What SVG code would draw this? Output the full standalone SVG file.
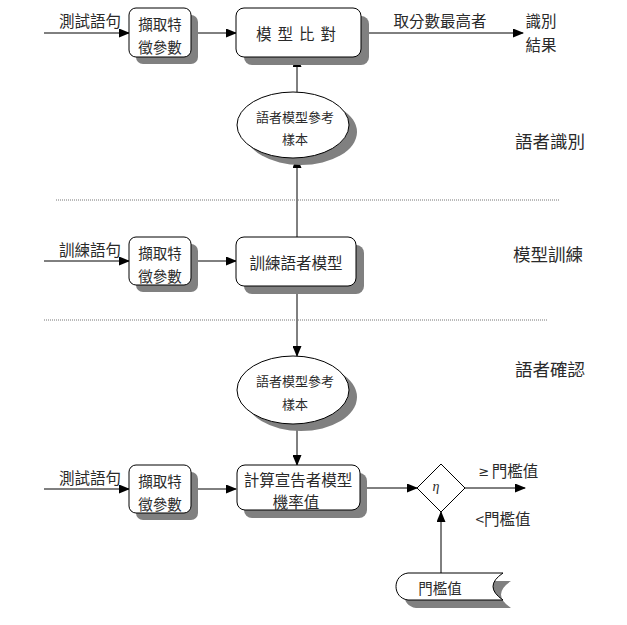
<svg xmlns="http://www.w3.org/2000/svg" width="627" height="625" viewBox="0 0 627 625">
<defs>
<style>
text{font-family:"Noto Sans CJK TC","Noto Sans CJK SC",sans-serif;fill:#2a2a2a;dominant-baseline:central;text-anchor:middle}
.lbl{font-size:15.5px}
.bx{font-size:14.5px}
.big{font-size:15.5px}
.ell{font-size:13px}
.sec{font-size:17.5px}
.node{fill:#fff;stroke:#000;stroke-width:1}
.shadow{fill:#808080;stroke:none}
.conn{stroke:#000;stroke-width:1;fill:none}
.dot{stroke:#777;stroke-width:1;stroke-dasharray:1 1;fill:none}
</style>
<marker id="arr" markerUnits="userSpaceOnUse" markerWidth="11" markerHeight="9" refX="10" refY="4.5" orient="auto">
<path d="M0,0 L11,4.5 L0,9 Z" fill="#000"/>
</marker>
</defs>
<rect width="627" height="625" fill="#fff"/>

<g id="connectors">
<line class="conn" x1="44" y1="33" x2="129" y2="33" marker-end="url(#arr)"/>
<line class="conn" x1="191" y1="33" x2="236" y2="33" marker-end="url(#arr)"/>
<line class="conn" x1="361" y1="33" x2="523" y2="33" marker-end="url(#arr)"/>
<line class="conn" x1="297" y1="92" x2="297" y2="57" marker-end="url(#arr)"/>
<line class="conn" x1="297" y1="237" x2="297" y2="158" marker-end="url(#arr)"/>
<line class="conn" x1="44" y1="261" x2="129" y2="261" marker-end="url(#arr)"/>
<line class="conn" x1="191" y1="261" x2="236" y2="261" marker-end="url(#arr)"/>
<line class="conn" x1="297" y1="286" x2="297" y2="356" marker-end="url(#arr)"/>
<line class="conn" x1="297" y1="424" x2="297" y2="465" marker-end="url(#arr)"/>
<line class="conn" x1="44" y1="489" x2="129" y2="489" marker-end="url(#arr)"/>
<line class="conn" x1="191" y1="489" x2="236" y2="489" marker-end="url(#arr)"/>
<line class="conn" x1="360" y1="488" x2="417" y2="488" marker-end="url(#arr)"/>
<line class="conn" x1="465" y1="488" x2="525" y2="488" marker-end="url(#arr)"/>
<line class="conn" x1="441" y1="573" x2="441" y2="512" marker-end="url(#arr)"/>
<line class="dot" x1="56" y1="200" x2="560" y2="200"/>
<line class="dot" x1="44" y1="320" x2="548" y2="320"/>
</g>

<g id="labels">
<text class="lbl" x="90" y="20">測試語句</text>
<text class="lbl" x="440" y="20">取分數最高者</text>
<text class="lbl" x="541" y="20">識別</text>
<text class="lbl" x="541" y="44">結果</text>
<text class="lbl" x="90" y="249">訓練語句</text>
<text class="lbl" x="90" y="477">測試語句</text>
<text class="sec" x="550" y="140">語者識別</text>
<text class="sec" x="548" y="253">模型訓練</text>
<text class="sec" x="550" y="368">語者確認</text>
<text class="lbl" x="484" y="471" style="font-size:13px;font-family:'DejaVu Sans',sans-serif">≥</text>
<text class="lbl" x="515" y="470">門檻值</text>
<text class="lbl" x="503" y="518">&lt;門檻值</text>
</g>

<g id="feat1">
<rect class="shadow" x="136" y="15" width="62" height="49" rx="7"/>
<rect class="node" x="129" y="8" width="62" height="49" rx="7"/>
<text class="bx" x="160" y="23">擷取特</text>
<text class="bx" x="160" y="46">徵參數</text>
</g>

<g id="match">
<rect class="shadow" x="244" y="16" width="125" height="49" rx="8"/>
<rect class="node" x="236" y="8" width="125" height="49" rx="8"/>
<text class="big" x="299" y="33" style="letter-spacing:6px">模型比對</text>
</g>

<g id="ref1">
<ellipse class="shadow" cx="301" cy="132" rx="56" ry="33"/>
<ellipse class="node" cx="293" cy="125" rx="56" ry="33"/>
<text class="ell" x="295" y="116">語者模型參考</text>
<text class="ell" x="295" y="138">樣本</text>
</g>

<g id="feat2">
<rect class="shadow" x="136" y="244" width="62" height="48" rx="7"/>
<rect class="node" x="129" y="237" width="62" height="48" rx="7"/>
<text class="bx" x="160" y="252">擷取特</text>
<text class="bx" x="160" y="275">徵參數</text>
</g>

<g id="train">
<rect class="shadow" x="244" y="245" width="120" height="49" rx="8"/>
<rect class="node" x="236" y="237" width="120" height="49" rx="8"/>
<text class="big" x="296" y="262">訓練語者模型</text>
</g>

<g id="ref2">
<ellipse class="shadow" cx="301" cy="397" rx="56" ry="34"/>
<ellipse class="node" cx="293" cy="390" rx="56" ry="34"/>
<text class="ell" x="295" y="380">語者模型參考</text>
<text class="ell" x="295" y="403">樣本</text>
</g>

<g id="feat3">
<rect class="shadow" x="136" y="472" width="62" height="48" rx="7"/>
<rect class="node" x="129" y="465" width="62" height="48" rx="7"/>
<text class="bx" x="160" y="480">擷取特</text>
<text class="bx" x="160" y="503">徵參數</text>
</g>

<g id="score">
<rect class="shadow" x="244" y="473" width="123" height="45" rx="8"/>
<rect class="node" x="237" y="465" width="123" height="45" rx="8"/>
<text class="big" x="298" y="479">計算宣告者模型</text>
<text class="big" x="296" y="501">機率值</text>
</g>

<g id="decision">
<polygon class="node" points="441,464 465,488 441,512 417,488"/>
<text x="436" y="486" style="font-family:'Liberation Serif',serif;font-style:italic;font-size:14px">η</text>
</g>

<g id="threshold">
<path class="shadow" d="M416,581 L511,581 Q491,594.5 511,608 L416,608 C400,606 400,583 416,581 Z"/>
<path class="node" d="M408,573 L503,573 Q483,586.5 503,600 L408,600 C392,598 392,575 408,573 Z"/>
<text class="bx" x="440" y="587">門檻值</text>
</g>
</svg>
